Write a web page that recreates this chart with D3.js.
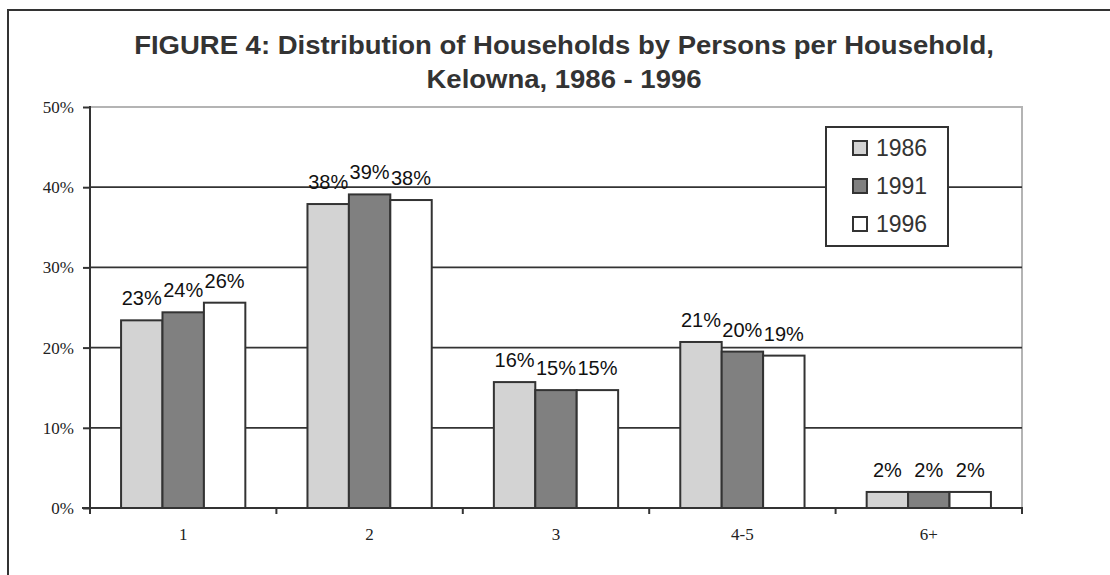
<!DOCTYPE html>
<meta charset="utf-8">
<style>
    body { margin: 0; background: #fff; }
    svg { display: block; }
    .title { font: bold 25px "Liberation Sans", Arial, sans-serif; fill: #333; }
    .tick text { font: 17px "Liberation Serif", "Times New Roman", serif; fill: #222; }
    .lbl { font: 20px "Liberation Sans", Arial, sans-serif; fill: #111; }
    .legend text { font: 23px "Liberation Sans", Arial, sans-serif; fill: #333; }
</style>
<body>
<div id="main"></div>
<script src="https://cdn.jsdelivr.net/npm/d3@7"></script>
<script>
// values (percent)
var categories = ["1", "2", "3", "4-5", "6+"];
var years = ["1986", "1991", "1996"];
var v1986 = [23.4, 37.9, 15.7, 20.7, 2.0];
var v1991 = [24.4, 39.1, 14.7, 19.5, 2.0];
var v1996 = [25.6, 38.4, 14.7, 19.0, 2.0];
var yTicks = [0, 10, 20, 30, 40, 50];
var titleLines = ["FIGURE 4: Distribution of Households by Persons per Household,",
                  "Kelowna, 1986 - 1996"];

var fills = {"1986": "#d3d3d3", "1991": "#808080", "1996": "#ffffff"};
var seriesVals = {"1986": v1986, "1991": v1991, "1996": v1996};

var width = 1110, height = 575;
var margin = {top: 107, right: 88, bottom: 67, left: 90};
var plotW = width - margin.left - margin.right,
    plotH = height - margin.top - margin.bottom;

var svg = d3.select("#main").append("svg")
    .attr("width", width)
    .attr("height", height);

// outer chart frame (runs off right and bottom)
svg.append("rect")
    .attr("x", 8).attr("y", 10)
    .attr("width", width + 20).attr("height", height + 20)
    .attr("fill", "none").attr("stroke", "#333").attr("stroke-width", 2);

// title
var title = svg.append("g").attr("transform", "translate(564,0) scale(1.1,1)");
title.selectAll("text").data(titleLines).enter().append("text")
    .attr("class", "title")
    .attr("text-anchor", "middle")
    .attr("y", function(d, i) { return 54 + i * 34; })
    .text(function(d) { return d; });

var g = svg.append("g")
    .attr("transform", "translate(" + margin.left + "," + margin.top + ")");

var x0 = d3.scaleBand().domain(categories).range([0, plotW]);
var bw = x0.bandwidth();
var x1 = d3.scaleBand().domain(years).range([bw / 6, bw * 5 / 6]);
var y = d3.scaleLinear().domain([0, 50]).range([plotH, 0]);

// plot area border (gray top and right)
g.append("path")
    .attr("d", "M0," + y(50) + "H" + plotW + "V" + plotH)
    .attr("fill", "none").attr("stroke", "#b4b4b4").attr("stroke-width", 2);

// gridlines
g.selectAll("line.grid").data(yTicks.filter(function(t) { return t > 0 && t < 50; }))
    .enter().append("line")
    .attr("class", "grid")
    .attr("x1", 0).attr("x2", plotW)
    .attr("y1", function(d) { return y(d); })
    .attr("y2", function(d) { return y(d); })
    .attr("stroke", "#333").attr("stroke-width", 1.8);

// y axis
var yAxis = d3.axisLeft(y).tickValues(yTicks)
    .tickFormat(function(d) { return d + "%"; })
    .tickSize(7).tickPadding(9);
var ya = g.append("g").call(yAxis);
ya.select(".domain").remove();
ya.selectAll(".tick line").attr("stroke", "#333").attr("stroke-width", 2);
ya.append("line").attr("x1", 0).attr("x2", 0).attr("y1", y(50) - 1).attr("y2", plotH + 1)
    .attr("stroke", "#333").attr("stroke-width", 2);

// bars
var groups = g.selectAll("g.cat").data(categories).enter().append("g")
    .attr("class", "cat")
    .attr("transform", function(d) { return "translate(" + x0(d) + ",0)"; });

groups.selectAll("rect").data(function(c, i) {
        return years.map(function(yr) { return {year: yr, value: seriesVals[yr][i]}; });
    })
    .enter().append("rect")
    .attr("x", function(d) { return x1(d.year); })
    .attr("y", function(d) { return y(d.value); })
    .attr("width", x1.bandwidth())
    .attr("height", function(d) { return plotH - y(d.value); })
    .attr("fill", function(d) { return fills[d.year]; })
    .attr("stroke", "#333").attr("stroke-width", 2);

groups.selectAll("text.lbl").data(function(c, i) {
        return years.map(function(yr) { return {year: yr, value: seriesVals[yr][i]}; });
    })
    .enter().append("text")
    .attr("class", "lbl")
    .attr("text-anchor", "middle")
    .attr("x", function(d) { return x1(d.year) + x1.bandwidth() / 2; })
    .attr("y", function(d) { return y(d.value) - 15; })
    .text(function(d) { return Math.round(d.value) + "%"; });

// x axis
var xTickScale = d3.scaleLinear().domain([0, categories.length]).range([0, plotW]);
var xa = g.append("g").attr("transform", "translate(0," + plotH + ")");
xa.append("line").attr("x1", -8).attr("x2", plotW + 1).attr("stroke", "#333").attr("stroke-width", 2);
xa.selectAll("line.xt").data(d3.range(0, categories.length + 1)).enter().append("line")
    .attr("class", "xt")
    .attr("x1", function(d) { return xTickScale(d); })
    .attr("x2", function(d) { return xTickScale(d); })
    .attr("y1", 0).attr("y2", 6)
    .attr("stroke", "#333").attr("stroke-width", 2);
xa.selectAll("text").data(categories).enter().append("text")
    .attr("text-anchor", "middle")
    .attr("x", function(d) { return x0(d) + bw / 2; })
    .attr("y", 32)
    .style("font", "17px 'Liberation Serif', 'Times New Roman', serif")
    .style("fill", "#222")
    .text(function(d) { return d; });

// legend
var legend = svg.append("g").attr("class", "legend").attr("transform", "translate(826,127)");
legend.append("rect")
    .attr("width", 122).attr("height", 119)
    .attr("fill", "#fff").attr("stroke", "#333").attr("stroke-width", 2);
var items = legend.selectAll("g.item").data(years).enter().append("g")
    .attr("class", "item")
    .attr("transform", function(d, i) { return "translate(27," + (21 + i * 38) + ")"; });
items.append("rect")
    .attr("x", 0).attr("y", -7).attr("width", 14).attr("height", 14)
    .attr("fill", function(d) { return fills[d]; })
    .attr("stroke", "#333").attr("stroke-width", 2);
items.append("text")
    .attr("x", 23).attr("y", 8)
    .text(function(d) { return d; });
</script>
</body>
